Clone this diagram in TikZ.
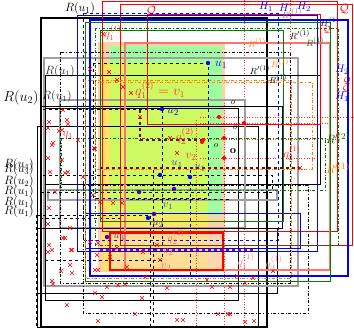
\documentclass[tikz,border=0pt]{standalone}
\usetikzlibrary{calc}
\begin{document}
\begin{tikzpicture}[x=1pt,y=-1pt,
  blk/.style={draw=black,line width=0.8pt},
  tblk/.style={draw=black,line width=1.6pt},
  gry/.style={draw=gray!75,line width=1.1pt},
  dsh/.style={draw=black,dashed,line width=0.7pt},
  dd/.style={draw=black,dash dot,line width=0.7pt},
  redr/.style={draw=red,line width=0.8pt},
  lred/.style={draw=red!55,line width=1.5pt},
  rdot/.style={draw=red!80,dotted,line width=0.6pt},
  blu/.style={draw=blue,line width=0.8pt},
  tblu/.style={draw=blue,line width=1.3pt},
  bludsh/.style={draw=blue,dashed,line width=0.7pt},
  grn/.style={draw=green!50!black,line width=0.7pt},
  grndd/.style={draw=green!45!black,dash dot,line width=0.7pt},
  orgdd/.style={draw=orange,dash dot,line width=0.7pt},
  brn/.style={draw=red!50!black,dashed,line width=1.1pt},
  lab/.style={inner sep=0pt,font=\fontsize{9.5}{9.5}\selectfont},
  rlab/.style={lab,text=red!80},
  blab/.style={lab,text=blue},
  bigl/.style={inner sep=0pt,font=\fontsize{13}{13}\selectfont},
  stk/.style={inner sep=0pt,font=\fontsize{12}{12}\selectfont}]
\useasboundingbox (0,0) rectangle (354,328);
\fill[white] (0,0) rectangle (354,328);
% fills
\fill[orange!35] (98,42) rectangle (225,272);
\fill[green!38] (110,46) rectangle (222,215);
\fill[yellow!85,opacity=0.5] (103,62) rectangle (208,270);
\fill[orange!30,opacity=0.6] (110,233) rectangle (223,270);
% dotted red grid
\draw[rdot] (224,100) -- (224,328) (244,0) -- (244,328) (290,0) -- (290,160) (196,120) -- (196,328);
\draw[rdot] (200,117) -- (354,117) (200,139) -- (340,139) (200,158) -- (320,158) (200,123) -- (330,123);
% black rectangles
\draw[tblk] (41,18) rectangle (267,327);
\draw[blk] (37,126) rectangle (258,327);
\draw[blk] (37,228) rectangle (277,293);
\draw[gry] (44,58) rectangle (298,286);
\draw[blk] (45,75) rectangle (320,184);
\draw[gry] (60,100) rectangle (245,228);
\draw[blk] (40,106) rectangle (282,228);
\draw[blk] (45,108) rectangle (238,300);
\draw[gry] (48,190) rectangle (277,200);
% dashed black
\draw[dsh] (93,63) rectangle (208,198);
\draw[dsh] (40,109) rectangle (162,260);
\draw[dsh] (40,175) rectangle (272,192);
\draw[dsh] (36,215) rectangle (150,328);
\draw[dsh] (153,170) -- (153,328) (190,170) -- (190,278) (130,199) -- (230,199) (40,218) -- (120,218);
% dash-dot black
\draw[dd] (60,52) rectangle (290,283);
\draw[dd] (83,185) rectangle (308,313);
% red
\draw[redr] (102,1) rectangle (337,231);
\draw[redr] (147,14) rectangle (320,124);
\draw[lred] (125,43) rectangle (330,270);
\draw[redr] (120,4) rectangle (352,245);
\draw[red,line width=1.2pt] (110,233) rectangle (223,270);
% blue
\draw[blu] (77,15) rectangle (317,251);
\draw[tblu] (90,20) rectangle (348,276);
\draw[bludsh] (83,13) rectangle (278,240);
\draw[blu] (85,213) rectangle (300,248);
% green
\draw[grn] (85,22) rectangle (330,281);
\draw[grn] (100,30) rectangle (283,221);
\draw[grndd] (95,28) rectangle (338,245);
\draw[grndd] (61,138) rectangle (325,190);
% orange
\draw[orgdd] (85,80) rectangle (291,278);
\draw[orgdd] (95,82) rectangle (312,169);
% brown dashed
\draw[brn] (140,110) -- (140,140) -- (205,140);
\draw[brn] (100,168) -- (300,168);
\draw[draw=violet!70!red,dashed,line width=1.1pt] (100,250) -- (255,250);
% crosses
\foreach \x/\y in {49/122,48/128,68/124,59/131,53/143,52/145,48/158,62/160,50/172,68/172,55/192,49/208,95/149,
48/224,70/228,63/238,49/245,52/250,48/252,71/250,70/265,72/273,61/271,52/281,53/284,67/305,98/321,
142/298,135/314,177/320,183/320,218/314,228/314,230/314,245/322,254/321,65/238,72/250,95/293,102/297,
107/287,118/285,125/284,167/288,207/280,212/287,230/287,237/276,245/283,253/278,273/271,
103/34,90/69,109/72,117/80,123/87,131/93,140/117,170/138,177/153,94/148,63/110,67/120,62/130,78/140,65/173,83/177,
93/195,100/202,113/203,122/203,90/242,98/243,97/255,95/270,98/270,110/257,117/248,143/252,157/245,160/260,145/277,127/267,300/168}
  {\draw[red,line width=0.7pt] ({\x-1.8},{\y-1.8}) -- ({\x+1.8},{\y+1.8}) ({\x-1.8},{\y+1.8}) -- ({\x+1.8},{\y-1.8});}
% dots
\foreach \x/\y in {244/123,224/138,224/158,202/142,219/117,203/140}
  {\fill[red] (\x,\y) circle (2);}
\foreach \x/\y in {208/63,162/109,160/175,190/177,148/218}
  {\fill[blue] (\x,\y) circle (2.2);}
\foreach \x/\y in {139/192,174/189,154/214,107/237}
  {\fill[blue!50!violet] (\x,\y) circle (2.2);}
% labels
\node[bigl] (lRu1) at (80,9) {$R(u_1)$};
\node[bigl,font=\fontsize{14}{14}\selectfont] (lRu2) at (21,98) {$R(u_2)$};
\node[stk,text=gray!30!black,font=\fontsize{11.5}{11.5}\selectfont] (lRa) at (60,72) {$R(u_1)$};
\node[stk,text=gray!30!black,font=\fontsize{11.5}{11.5}\selectfont] (lRb) at (57,97) {$R(u_1)$};
\node[stk] (s1) at (19,165) {$R(u_4)$};
\node[stk] (s2) at (19,170) {$R(u_3)$};
\node[stk] (s3) at (19,182) {$R(u_2)$};
\node[stk] (s4) at (19,192) {$R(u_1)$};
\node[stk] (s5) at (19,203) {$R(u_1)$};
\node[stk] (s6) at (19,212) {$R(u_1)$};
\node[bigl,text=red] (lQa) at (151,11) {$\mathcal{Q}$};
\node[lab,text=red,font=\fontsize{12}{12}\selectfont] (lQb) at (344,9) {$\mathcal{Q}$};
\node[blab,font=\fontsize{11}{11}\selectfont] (lH1) at (266,7) {$H_1$};
\node[blab,font=\fontsize{11}{11}\selectfont] (lH) at (284,8) {$H$};
\node[blab,font=\fontsize{11}{11}\selectfont] (lH2) at (304,7) {$H_2$};
\node[lab,text=gray] (lRp) at (292,15) {$R'^{(1)}_1$};
\node[blab,font=\fontsize{11}{11}\selectfont] (lH2r) at (342,70) {$H_2$};
\node[blab,font=\fontsize{11}{11}\selectfont] (lH1r) at (342,97) {$H_1$};
\node[lab,text=red] (lc1) at (347,81) {$\mathcal{Q}$};
\node[lab,text=red] (lc2) at (346,89) {$\mathcal{Q}$};
\node[lab,text=red] (lc3) at (327,30) {$\mathcal{Q}$};
\node[lab,text=orange] (lR1o) at (257,43) {$R^{(1)}$};
\node[lab] (lR1k) at (260,70) {$R'^{(1)}$};
\node[lab,text=orange] (lR1o2) at (280,63) {$R^{(1)}$};
\node[lab] (lR1k2) at (278,79) {$R^{(1)}$};
\node[lab] (lR1k3) at (300,35) {$R'^{(1)}$};
\node[lab,text=green!40!black] (lR1g) at (315,42) {$R^{(1)}$};
\node[lab,text=blue] (lH1t) at (330,22) {$H^{(1)}$};
\node[rlab,font=\fontsize{12}{12}\selectfont] (lq11) at (113,33) {$q_1^{(1)}$};
\node[rlab,font=\fontsize{12}{12}\selectfont] (lq11b) at (68,135) {$q_1$};
\node[rlab,font=\fontsize{13.5}{13.5}\selectfont] (lq12) at (160,90) {$q_1^{(2)}=v_1$};
\node[blab,font=\fontsize{12.5}{12.5}\selectfont] (lu1) at (221,65) {$u_1$};
\node[blab,font=\fontsize{12.5}{12.5}\selectfont] (lu2) at (173,112) {$u_2$};
\node[rlab,font=\fontsize{12.5}{12.5}\selectfont] (lq22) at (185,136) {$q_2^{(2)}$};
\node[rlab,font=\fontsize{12.5}{12.5}\selectfont] (lv2) at (191,157) {$v_2$};
\node[lab,text=blue!50!gray,font=\fontsize{11}{11}\selectfont] (lu1b) at (177,164) {$u_1$};
\node[lab,text=blue!50!gray,font=\fontsize{11}{11}\selectfont] (lu1c) at (200,168) {$u_1$};
\node[lab,text=blue!50!gray,font=\fontsize{11}{11}\selectfont] (lv1) at (168,206) {$v_1$};
\node[lab,text=blue!50!gray,font=\fontsize{11}{11}\selectfont] (lu2b) at (158,224) {$u_2$};
\node[lab,text=blue!50!gray,font=\fontsize{11}{11}\selectfont] (lu3) at (119,237) {$u_3$};
\node[lab,text=red!60,font=\fontsize{11}{11}\selectfont] (lv2b) at (168,252) {$v_2$};
\node[lab,text=red!60,font=\fontsize{11}{11}\selectfont] (lv2c) at (166,267) {$v_2$};
\node[lab,text=red!60,font=\fontsize{11}{11}\selectfont] (lq2b) at (176,237) {$q_2^{(2)}$};
\node[lab] (lo1) at (233,103) {$o$};
\node[lab] (lo2) at (235,128) {$o$};
\node[lab] (lo3) at (216,146) {$o$};
\node[lab,font=\fontsize{11}{11}\selectfont] (lo4) at (233,151) {$\mathbf{o}$};
\node[lab,text=green!40!black,font=\fontsize{13}{13}\selectfont] (lRg) at (338,138) {$R'^{(2)}$};
\node[lab,text=orange,font=\fontsize{13}{13}\selectfont] (lRo) at (338,168) {$R'^{(1)}$};
\node[rlab,font=\fontsize{12}{12}\selectfont] (lq21) at (292,153) {$q_2^{(1)}$};
\node[lab,text=red!50,font=\fontsize{11}{11}\selectfont] (lq11c) at (246,261) {$q_1^{(1)}$};
\node[lab,text=red!50,font=\fontsize{11}{11}\selectfont] (lq21c) at (274,263) {$q_2^{(1)}$};
\end{tikzpicture}
\end{document}
